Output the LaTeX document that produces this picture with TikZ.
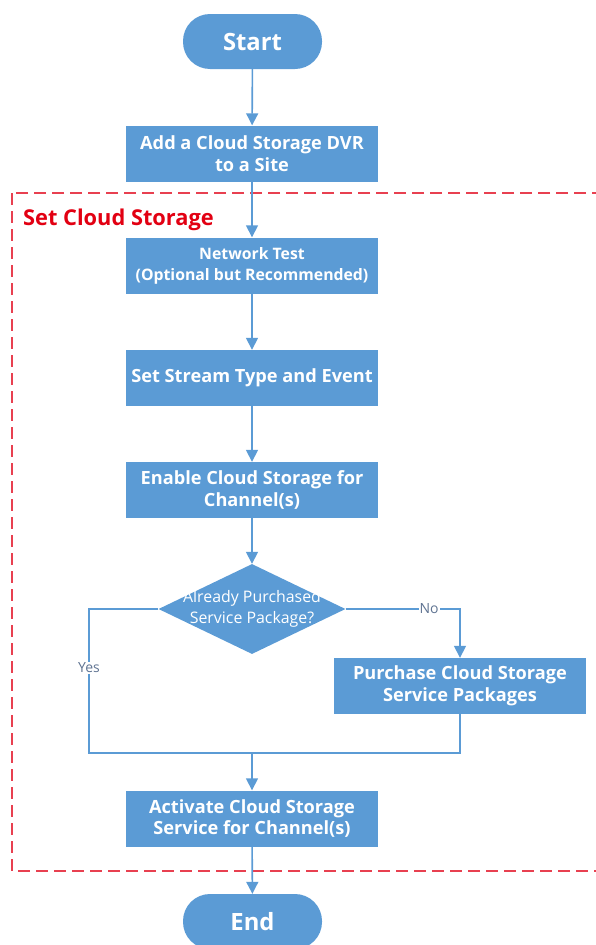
\documentclass[tikz,border=0pt]{standalone}
\usepackage{fontspec}
\setmainfont{Open Sans}
\usepackage{xcolor}
\usepackage{tikz}
\usetikzlibrary{arrows.meta, positioning, shapes.geometric}
\definecolor{boxblue}{RGB}{91,155,213}
\definecolor{groupred}{RGB}{232,64,80}
\definecolor{titlered}{RGB}{226,0,18}
\definecolor{answergrey}{RGB}{96,116,146}

\begin{document}
\begin{tikzpicture}[x=1pt, y=-1pt,
  terminal/.style={fill=boxblue, rounded corners=27pt, minimum width=139pt, minimum height=55pt, font=\fontsize{23.8}{28}\selectfont\bfseries, text=white, inner sep=0pt},
  process/.style={fill=boxblue, minimum width=252pt, minimum height=56pt, font=\fontsize{18.2}{21.5}\selectfont\bfseries, text=white, align=center, inner sep=0pt},
  decision/.style={diamond, fill=boxblue, minimum width=187pt, minimum height=90pt, inner sep=0pt},
  flow/.style={draw=boxblue, line width=1.6pt, -{Triangle[length=12pt, width=12pt]}},
  link/.style={draw=boxblue, line width=1.6pt},
  answer/.style={fill=white, text=answergrey, font=\fontsize{14}{16}\selectfont, inner sep=1pt}
]
\clip (0,0) rectangle (596,945);

% --- Group frame ---
\draw[groupred, line width=1.8pt, dash pattern=on 12pt off 6pt] (12,193) rectangle (620,871);
\node[anchor=base west, text=titlered, font=\fontsize{21.8}{26}\selectfont\bfseries, inner sep=0pt] (grouptitle) at (23,225) {Set Cloud Storage};

% --- Steps ---
\node[terminal] (start) at (252.5,41.5) {Start};
\node[process] (adddvr) at (252,153.5) {Add a Cloud Storage DVR\\to a Site};
\node[process, font=\fontsize{15.8}{21}\selectfont\bfseries] (nettest) at (252,265.5) {Network Test\\(Optional but Recommended)};
\node[process] (stream) at (252,378) {Set Stream Type and Event};
\node[process] (enable) at (252,490) {Enable Cloud Storage for\\Channel(s)};
\node[decision] (check) at (252,609) {};
\node[text=white, align=center, font=\fontsize{15.9}{21}\selectfont, inner sep=0pt] (checktext) at (252,609) {Already Purchased\\Service Package?};
\node[process] (purchase) at (460,686) {Purchase Cloud Storage\\Service Packages};
\node[process] (activate) at (252,818.5) {Activate Cloud Storage\\Service for Channel(s)};
\node[terminal] (end) at (252.5,921.5) {End};

% --- Join points ---
\coordinate (merge) at (252,753);
\coordinate (yesbend) at (89,753);

% --- Connectors ---
\draw[flow] (start) -- (adddvr);
\draw[flow] (adddvr) -- (nettest);
\draw[flow] (nettest) -- (stream);
\draw[flow] (stream) -- (enable);
\draw[flow] (enable) -- (check);
\draw[flow] (check.east) -| node[answer, pos=0.365] (no) {No} (purchase.north);
\draw[link] (check.west) -| node[answer, pos=0.705] (yes) {Yes} (yesbend) -- (merge);
\draw[link] (purchase.south) |- (merge);
\draw[flow] (merge) -- (activate);
\draw[flow] (activate) -- (end);

\end{tikzpicture}
\end{document}
